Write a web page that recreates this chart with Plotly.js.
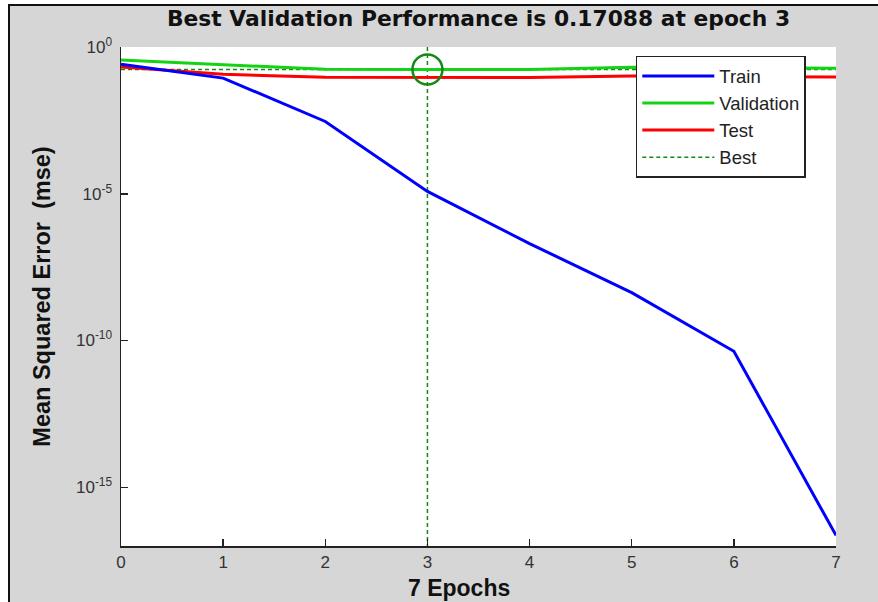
<!DOCTYPE html>
<html>
<head>
<meta charset="utf-8">
<script src="https://cdn.plot.ly/plotly-3.0.1.min.js"></script>
<style>
  html, body { margin: 0; padding: 0; background: #ffffff; width: 878px; height: 602px; overflow: hidden; }
  #frame { position: absolute; left: 8px; top: 4px; width: 880px; height: 610px; border-left: 2px solid #111; border-top: 2px solid #111; background: #d6d6d6; }
  #chart { position: absolute; left: 10px; top: 6px; width: 868px; height: 596px; }
</style>
</head>
<body>
<div id="frame"></div>
<div id="chart"></div>
<script>
// ---- data ----
const epochs = [0, 1, 2, 3, 4, 5, 6, 7];
const trainPerf = [0.26, 0.087, 2.9e-3, 1.2e-5, 2.0e-7, 4.3e-9, 4.3e-11, 2.3e-17];
const valPerf   = [0.36, 0.245, 0.174, 0.17088, 0.1712, 0.205, 0.198, 0.19];
const testPerf  = [0.21, 0.118, 0.093, 0.092, 0.092, 0.102, 0.098, 0.095];
const bestEpoch = 3;
const bestPerf = 0.17088;
const yTickVals = [1, 1e-5, 1e-10, 1e-15];
const yTickText = ['10<sup>0</sup>', '10<sup>-5</sup>', '10<sup>-10</sup>', '10<sup>-15</sup>'];
const xTickVals = [0, 1, 2, 3, 4, 5, 6, 7];
const yLogRange = [-17, 0];

const font = 'Arial, "Liberation Sans", sans-serif';
const wideBold = '"DejaVu Sans", Arial, sans-serif';
const lastEpoch = epochs[epochs.length - 1];

const traces = [
  { // Best: horizontal + vertical dashed lines
    x: [epochs[0], lastEpoch, null, bestEpoch, bestEpoch],
    y: [bestPerf, bestPerf, null, Math.pow(10, yLogRange[1]), Math.pow(10, yLogRange[0])],
    mode: 'lines', name: 'Best', legendrank: 4,
    line: { color: '#138a13', width: 1.5, dash: '4px,3px' }
  },
  { x: epochs, y: testPerf, mode: 'lines', name: 'Test', legendrank: 3,
    line: { color: '#ff0000', width: 3 } },
  { x: epochs, y: valPerf, mode: 'lines', name: 'Validation', legendrank: 2,
    line: { color: '#14d214', width: 3 } },
  { x: epochs, y: trainPerf, mode: 'lines', name: 'Train', legendrank: 1,
    line: { color: '#0000ff', width: 3 } },
  { x: [bestEpoch], y: [bestPerf], mode: 'markers', showlegend: false, hoverinfo: 'skip',
    marker: { symbol: 'circle-open', size: 30, color: '#138a13', line: { color: '#138a13', width: 2.5 } } }
];

const layout = {
  width: 868, height: 596,
  margin: { l: 111, r: 42, t: 41, b: 56 },
  paper_bgcolor: 'rgba(0,0,0,0)',
  plot_bgcolor: '#ffffff',
  showlegend: true,
  title: {
    text: '<b>Best Validation Performance is 0.17088 at epoch 3</b>',
    font: { family: wideBold, size: 21.8, color: '#111' },
    x: 0.5 , xref: 'paper', xanchor: 'center',
    y: 1, yref: 'container', yanchor: 'top', pad: { t: 5 }
  },
  xaxis: {
    range: [0, 7], tickvals: xTickVals, ticktext: xTickVals.map(String),
    showgrid: false, zeroline: false, showline: true, linecolor: '#222', linewidth: 1.5,
    ticks: 'inside', ticklen: 7, tickcolor: '#222', tickwidth: 1.5,
    tickfont: { family: font, size: 17, color: '#333' }
  },
  yaxis: {
    type: 'log', range: yLogRange, tickvals: yTickVals, ticktext: yTickText,
    showgrid: false, zeroline: false, showline: true, linecolor: '#222', linewidth: 1.5,
    ticks: 'inside', ticklen: 7, tickcolor: '#222', tickwidth: 1.5,
    ticklabelstandoff: 4,
    tickfont: { family: font, size: 17, color: '#333' },
    title: { text: '<b>Mean Squared Error  (mse)</b>', font: { family: font, size: 23.5, color: '#111' }, standoff: 19 }
  },
  annotations: [{
    text: '<b>7 Epochs</b>', xref: 'paper', yref: 'paper', x: 0.473, y: 0,
    xanchor: 'center', yanchor: 'top', yshift: -27, showarrow: false,
    font: { family: font, size: 23, color: '#111' }
  }],
  legend: {
    x: 0.72, y: 0.982, xanchor: 'left', yanchor: 'top',
    bgcolor: '#ffffff', bordercolor: '#222', borderwidth: 1.5,
    font: { family: font, size: 18.5, color: '#222' },
    itemwidth: 72, tracegroupgap: 0
  }
};

Plotly.newPlot('chart', traces, layout, { displayModeBar: false, staticPlot: true });
</script>
</body>
</html>
